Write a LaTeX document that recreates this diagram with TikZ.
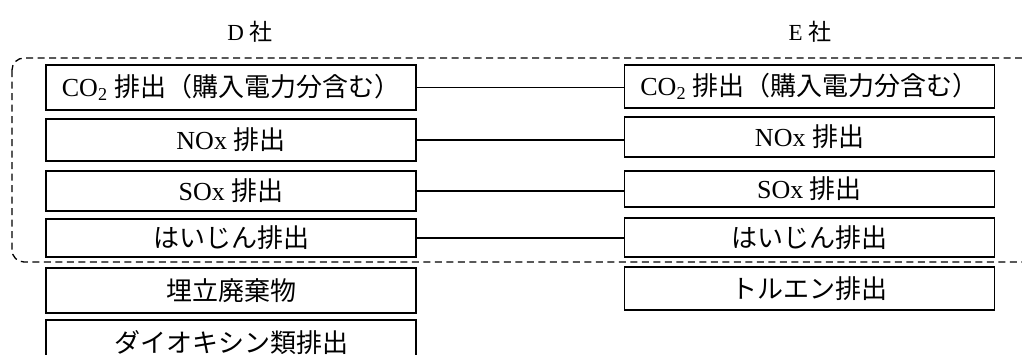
\documentclass[tikz,border=0pt]{standalone}
\usepackage{fontspec}
\setmainfont{Liberation Serif}
\newfontfamily\jp{Noto Sans CJK JP}
\begin{document}
\begin{tikzpicture}[x=1pt, y=-1pt,
  item/.style={draw, line width=1.6pt, minimum width=370pt, inner sep=0pt,
    font=\fontsize{26}{26}\selectfont},
  link/.style={line width=1.3pt},
  group/.style={dashed, dash pattern=on 7pt off 4.5pt, line width=1.3pt, rounded corners=12pt},
  head/.style={font=\fontsize{23}{23}\selectfont}]
\useasboundingbox (0,0) rectangle (1022,354);

% company headings
\node[head] (dh) at (250,32) {D {\jp 社}};
\node[head] (eh) at (810,32) {E {\jp 社}};

% common items group
\draw[group] (12,58) rectangle (1040,262);

% D column
\node[item, minimum height=45pt] (d1) at (231,87.5) {CO\textsubscript{2} {\jp 排出（購入電力分含む）}};
\node[item, minimum height=42pt] (d2) at (231,140) {NOx {\jp 排出}};
\node[item, minimum height=40pt] (d3) at (231,191) {SOx {\jp 排出}};
\node[item, minimum height=38pt] (d4) at (231,238) {\jp はいじん排出};
\node[item, minimum height=45pt] (d5) at (231,290.5) {\jp 埋立廃棄物};
\node[item, minimum height=46pt] (d6) at (231,343) {\jp ダイオキシン類排出};

% E column
\node[item, minimum height=43pt] (e1) at (809.5,86.5) {CO\textsubscript{2} {\jp 排出（購入電力分含む）}};
\node[item, minimum height=40pt] (e2) at (809.5,137) {NOx {\jp 排出}};
\node[item, minimum height=36pt] (e3) at (809.5,189) {SOx {\jp 排出}};
\node[item, minimum height=39pt] (e4) at (809.5,237.5) {\jp はいじん排出};
\node[item, minimum height=43pt] (e5) at (809.5,288.5) {\jp トルエン排出};

% links between matching items
\draw[link] (d1.east) -- (d1.east -| e1.west);
\draw[link] (d2.east) -- (d2.east -| e2.west);
\draw[link] (d3.east) -- (d3.east -| e3.west);
\draw[link] (d4.east) -- (d4.east -| e4.west);
\end{tikzpicture}
\end{document}
